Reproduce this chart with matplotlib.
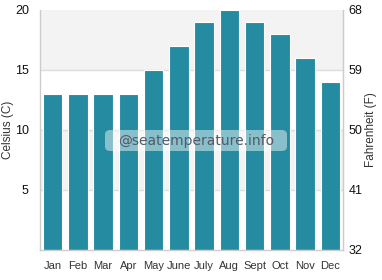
import matplotlib
matplotlib.use("Agg")
import matplotlib.pyplot as plt
from matplotlib.patches import FancyBboxPatch

months = ["Jan", "Feb", "Mar", "Apr", "May", "June", "July", "Aug", "Sept", "Oct", "Nov", "Dec"]
celsius = [13, 13, 13, 13, 15, 17, 19, 20, 19, 18, 16, 14]
c_ticks = [5, 10, 15, 20]
f_ticks = [32, 41, 50, 59, 68]

plt.rcParams['font.family'] = ['Liberation Sans', 'DejaVu Sans']

fig = plt.figure(figsize=(3.82, 2.80), dpi=100)
ax = fig.add_axes([40/382, 30/280, 303/382, 240/280])

bar_color = "#258ba1"
grid_color = "#dddddd"
band_color = "#f3f3f3"

ax.set_xlim(-0.5, len(months) - 0.5)
ax.set_ylim(0, 20)

# alternating bands
for lo in (5, 15):
    ax.axhspan(lo, lo + 5, color=band_color, zorder=0, lw=0)
for t in (5, 10, 15):
    ax.axhline(t, color=grid_color, lw=1, zorder=0.5)

x = list(range(len(months)))
ax.bar(x, celsius, width=0.78, color=bar_color, edgecolor="white", linewidth=0.8, zorder=2)

ax.set_xticks(x)
ax.set_xticklabels(months, fontsize=8, color="#333333")
ax.set_yticks(c_ticks)
ax.set_yticklabels([str(t) for t in c_ticks], fontsize=9, color="#111111")
ax.tick_params(axis='x', length=0, pad=8)
ax.tick_params(axis='y', length=0, pad=8)
ax.set_ylabel("Celsius (C)", fontsize=8.5, color="#333333")
ax.yaxis.set_label_coords((14 - 40) / 303, 0.5)

for s in ("left", "bottom", "right"):
    ax.spines[s].set_color("#cccccc")
    ax.spines[s].set_linewidth(1)
ax.spines["top"].set_visible(False)

ax2 = ax.twinx()
ax2.set_ylim(32, 68)
ax2.set_yticks(f_ticks)
ax2.set_yticklabels([str(t) for t in f_ticks], fontsize=9, color="#111111")
ax2.tick_params(axis='y', length=0, pad=4)
ax2.set_ylabel("Fahrenheit (F)", fontsize=8.5, color="#333333")
ax2.yaxis.set_label_coords((365 - 40) / 303, 0.5)
for s in ("left", "bottom", "top"):
    ax2.spines[s].set_visible(False)
ax2.spines["right"].set_color("#cccccc")

# watermark
box = FancyBboxPatch((105/382, (280-151)/280), (287-105)/382, 21/280,
                     boxstyle="round,pad=0,rounding_size=0.015",
                     transform=fig.transFigure, facecolor="white", alpha=0.45,
                     edgecolor="none", zorder=5)
fig.patches.append(box)
fig.text(196/382, (280-140.5)/280, "@seatemperature.info", ha="center", va="center",
         fontsize=10, color="#555a66", family="DejaVu Sans", zorder=6)

fig.savefig("out.png", dpi=100)
